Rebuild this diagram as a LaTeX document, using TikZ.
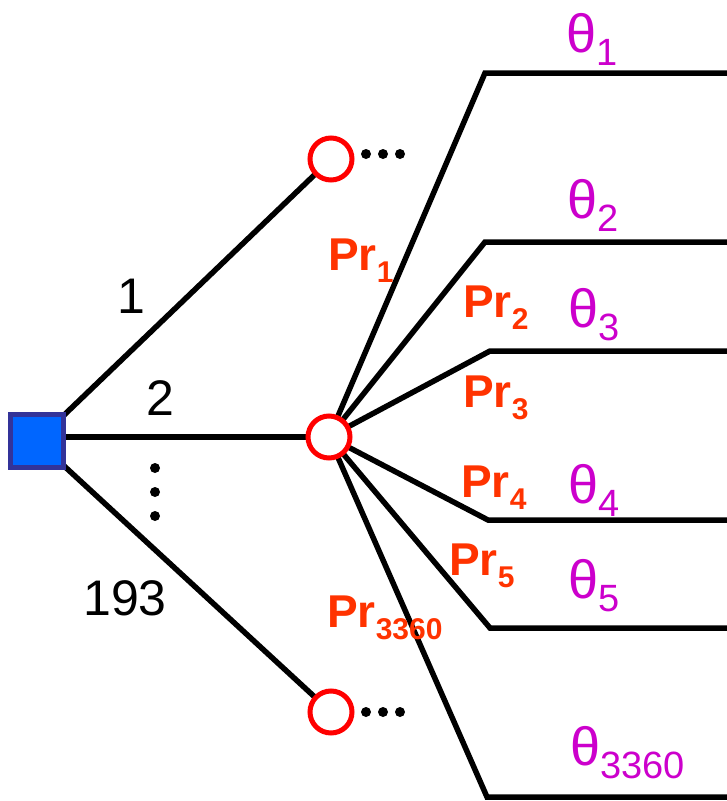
\documentclass[tikz,border=0pt]{standalone}
\usepackage{fontspec}
\setmainfont{Liberation Sans}
\begin{document}
\begin{tikzpicture}[x=1pt,y=-1pt,
  edge/.style={line width=5.5pt,black},
  chance/.style={circle,draw=red,fill=white,line width=5pt,minimum size=42pt,inner sep=0pt},
  decision/.style={rectangle,draw={rgb,255:red,51;green,51;blue,153},fill={rgb,255:red,0;green,102;blue,255},line width=5pt,minimum size=53pt,inner sep=0pt},
  dot/.style={circle,fill=black,inner sep=0pt,minimum size=10pt},
  prlab/.style={anchor=base west,inner sep=0pt,text={rgb,255:red,255;green,51;blue,0},font=\fontsize{46}{46}\selectfont\bfseries},
  thlab/.style={anchor=base west,inner sep=0pt,text={rgb,255:red,204;green,0;blue,204},font=\fontsize{54}{54}\selectfont},
  numlab/.style={anchor=base west,inner sep=0pt,font=\fontsize{50}{50}\selectfont}]
\useasboundingbox (0,0) rectangle (727,801);
\newcommand{\prsub}[1]{\raisebox{-12pt}{\fontsize{30}{30}\selectfont\bfseries #1}}
\newcommand{\thsub}[1]{\raisebox{-13pt}{\fontsize{38}{38}\selectfont #1}}
% nodes
\node[decision] (sq) at (37,441) {};
\coordinate (ct) at (331,159);
\coordinate (cm) at (329,437);
\coordinate (cb) at (331,712);
% ends
\coordinate (k1) at (485,73);  \coordinate (e1) at (727,73);
\coordinate (k2) at (485,242); \coordinate (e2) at (727,242);
\coordinate (k3) at (490,351); \coordinate (e3) at (727,351);
\coordinate (k4) at (488,520); \coordinate (e4) at (727,520);
\coordinate (k5) at (490,628); \coordinate (e5) at (727,628);
\coordinate (k6) at (487,797); \coordinate (e6) at (727,797);
% edges from decision
\draw[edge] (sq.center) -- (ct);
\draw[edge] (sq.center |- cm) -- (cm);
\draw[edge] (sq.center) -- (cb);
% branches
\foreach \i in {1,...,6} {\draw[edge,line join=miter] (cm) -- (k\i) -- (e\i);}
% redraw square and circles on top
\node[decision] at (37,441) {};
\node[chance] (top) at (ct) {};
\node[chance] (mid) at (cm) {};
\node[chance] (bot) at (cb) {};
% dots
\node[dot] (d1) at (366,154) {};
\node[dot] (d2) at (383,154) {};
\node[dot] (d3) at (400,154) {};
\node[dot] (d4) at (366,712) {};
\node[dot] (d5) at (383,712) {};
\node[dot] (d6) at (400,712) {};
\node[dot] (v1) at (155,468) {};
\node[dot] (v2) at (155,492) {};
\node[dot] (v3) at (155,516) {};
% numbers
\node[numlab] (n1) at (117,313) {1};
\node[numlab] (n2) at (146,415) {2};
\node[numlab] (n3) at (83,615) {193};
% Pr labels
\node[prlab] (p1) at (328,270) {Pr\prsub{1}};
\node[prlab] (p2) at (463,317) {Pr\prsub{2}};
\node[prlab] (p3) at (463,407) {Pr\prsub{3}};
\node[prlab] (p4) at (461,497) {Pr\prsub{4}};
\node[prlab] (p5) at (449,575) {Pr\prsub{5}};
\node[prlab] (p6) at (327,627) {Pr\prsub{3360}};
% theta labels
\node[thlab] (t1) at (566,52) {θ\thsub{1}};
\node[thlab] (t2) at (567,218) {θ\thsub{2}};
\node[thlab] (t3) at (568,327) {θ\thsub{3}};
\node[thlab] (t4) at (568,503) {θ\thsub{4}};
\node[thlab] (t5) at (568,598) {θ\thsub{5}};
\node[thlab] (t6) at (570,765) {θ\thsub{3360}};
\end{tikzpicture}
\end{document}
